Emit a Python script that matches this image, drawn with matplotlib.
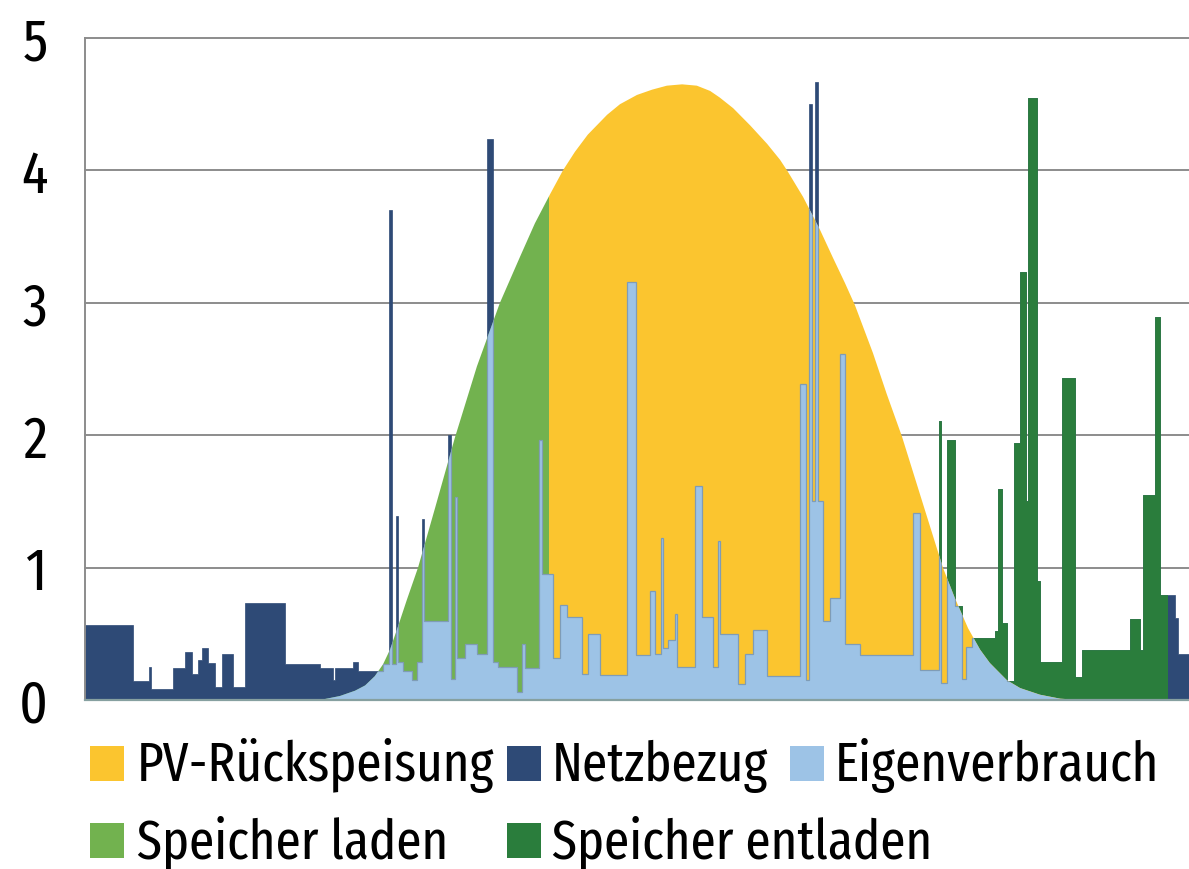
import numpy as np
import matplotlib
matplotlib.use("Agg")
import matplotlib.pyplot as plt
from matplotlib.patches import Polygon, Rectangle

plt.rcParams['font.family'] = ['Fira Sans Extra Condensed', 'DejaVu Sans']
plt.rcParams['font.stretch'] = 'condensed'

# PV-Erzeugung (Stunde, kW)
pv_h = [5.11, 5.54, 5.87, 6.09, 6.30, 6.48, 6.63, 6.78, 7.00, 7.24, 7.61, 8.04, 8.52,
        9.02, 9.46, 9.78, 10.11, 10.39, 10.65, 10.93, 11.35, 11.63, 12.00, 12.33, 12.65,
        12.98, 13.30, 13.59, 13.80, 14.09, 14.46, 14.83, 15.11, 15.28, 15.61, 15.98,
        16.26, 16.52, 16.74, 17.13, 17.43, 17.76, 18.20, 18.65, 18.91, 19.20, 19.46,
        19.67, 20.04, 20.33, 20.76, 21.20, 21.63]
pv_kw = [0.00, 0.03, 0.07, 0.11, 0.18, 0.27, 0.38, 0.53, 0.76, 1.00, 1.45, 1.98, 2.52,
         3.00, 3.35, 3.60, 3.82, 4.00, 4.14, 4.27, 4.42, 4.50, 4.57, 4.61, 4.64,
         4.65, 4.64, 4.60, 4.55, 4.47, 4.34, 4.20, 4.08, 3.99, 3.80, 3.55,
         3.34, 3.15, 2.98, 2.62, 2.31, 1.99, 1.50, 1.00, 0.77, 0.54, 0.38,
         0.28, 0.15, 0.09, 0.04, 0.01, 0.00]

# Verbrauch als Stufen: Beginn der Stufe (Stunde) und Leistung (kW)
load_h = [0.00, 1.04, 1.39, 1.43, 1.91, 2.17, 2.33, 2.46, 2.54, 2.67, 2.83, 2.98, 3.22,
          3.48, 4.35, 5.11, 5.39, 5.43, 5.83, 5.93, 6.48, 6.61, 6.67, 6.76, 6.80, 6.91,
          7.11, 7.22, 7.33, 7.37, 7.89, 7.96, 8.04, 8.09, 8.26, 8.52, 8.74, 8.87, 8.98,
          9.39, 9.50, 9.57, 9.87, 9.93, 10.17, 10.33, 10.48, 10.80, 10.93, 11.20, 11.78,
          11.98, 12.28, 12.39, 12.52, 12.57, 12.67, 12.83, 12.87, 13.26, 13.41, 13.65,
          13.76, 13.80, 14.20, 14.35, 14.52, 14.83, 15.54, 15.67, 15.74, 15.80, 15.87,
          15.93, 16.04, 16.20, 16.41, 16.52, 16.85, 18.00, 18.15, 18.57, 18.61, 18.74,
          18.91, 19.07, 19.15, 19.28, 19.78, 19.85, 19.93, 20.04, 20.20, 20.33, 20.46,
          20.50, 20.70, 20.76, 21.24, 21.52, 21.67, 22.72, 22.93, 23.00, 23.26, 23.37,
          23.70, 23.76]
load_kw = [0.57, 0.14, 0.25, 0.08, 0.24, 0.36, 0.20, 0.30, 0.39, 0.28, 0.10, 0.35, 0.10,
           0.73, 0.27, 0.24, 0.15, 0.24, 0.29, 0.22, 0.27, 3.70, 0.27, 1.39, 0.29, 0.22,
           0.15, 0.29, 1.37, 0.60, 2.00, 0.16, 1.53, 0.32, 0.42, 0.35, 4.24, 0.29, 0.25,
           0.06, 0.42, 0.24, 1.96, 0.95, 0.32, 0.72, 0.63, 0.20, 0.50, 0.19, 3.16,
           0.34, 0.82, 0.35, 1.22, 0.39, 0.45, 0.65, 0.25, 1.62, 0.63, 0.25,
           1.20, 0.50, 0.12, 0.35, 0.53, 0.18, 2.39, 0.15, 4.50, 1.50, 4.67,
           1.50, 0.60, 0.77, 2.61, 0.42, 0.34, 1.41, 0.23, 2.11, 0.13, 1.96,
           0.71, 0.16, 0.40, 0.47, 0.52, 1.59, 0.58, 0.14, 1.94, 3.23, 1.50,
           4.55, 0.90, 0.29, 2.43, 0.17, 0.38, 0.61, 0.38, 1.55, 2.89, 0.79,
           0.62, 0.35]
day_end = 24.0

# Speicher voll ab / Speicher entlädt von-bis (Stunde)
charge_end = 10.09
discharge = (18.50, 23.54)

labels = ['PV-Rückspeisung', 'Netzbezug', 'Eigenverbrauch', 'Speicher laden', 'Speicher entladen']
colors = ['#FBC52F', '#2E4A76', '#9DC3E6', '#72B24F', '#2A7D3C']
c_feed, c_grid, c_self, c_charge, c_disch = colors

fig = plt.figure(figsize=(11.89, 8.69), dpi=100)
ax = fig.add_axes([85 / 1189, 1 - 700 / 869, 1104 / 1189, 662 / 869])
ax.set_xlim(0, day_end)
ax.set_ylim(0, 5)

# step polygon of the load
edges = np.array(load_h + [day_end])
vals = np.array(load_kw)
xs = np.r_[edges[0], np.repeat(edges, 2)[1:-1], edges[-1]]
ys = np.r_[0, np.repeat(vals, 2), 0]
load_xy = np.column_stack([xs, ys])
pv_xy = np.column_stack([pv_h, pv_kw])


def area(xy, fc, ec=None, lw=0.5, clip=None, z=2):
    p = Polygon(xy, closed=True, facecolor=fc, edgecolor=ec or fc, lw=lw,
                transform=ax.transData, zorder=z)
    ax.add_patch(p)
    if clip is not None:
        p.set_clip_path(clip)
    return p


def span(t0, t1):
    return Rectangle((t0, -1), t1 - t0, 10, transform=ax.transData)


area(load_xy, c_grid, z=2)
area(load_xy, c_disch, clip=span(*discharge), z=3)
area(pv_xy, c_charge, lw=0, clip=span(0, charge_end), z=4)
area(pv_xy, c_feed, lw=0, clip=span(charge_end, day_end), z=4)
pv_clip = Polygon(pv_xy, closed=True, transform=ax.transData)
area(load_xy, c_self, ec='#7f9cb6', lw=0.9, clip=pv_clip, z=5)

# axes styling
ax.set_yticks(range(6))
ax.set_xticks([])
ax.yaxis.grid(True, color='#8c8c8c', lw=1.4)
ax.set_axisbelow(True)
for gl in ax.get_ygridlines():
    gl.set_clip_on(False)
for s in ['top', 'right']:
    ax.spines[s].set_visible(False)
ax.spines['left'].set_color('#8c8c8c')
ax.spines['left'].set_linewidth(1.4)
ax.spines['bottom'].set_color('#86a0a0')
ax.spines['bottom'].set_linewidth(1.6)
ax.spines['bottom'].set_zorder(6)
ax.tick_params(axis='y', length=0, pad=27, labelsize=43)

# legend, laid out like the original
rows = [(781, [(0, 90, 137), (1, 507, 552), (2, 790, 835)]),
        (858, [(3, 90, 137), (4, 507, 552)])]
for base, items in rows:
    for i, xs_, xt in items:
        fig.patches.append(Rectangle((xs_ / 1189, 1 - base / 869), 34 / 1189, 35 / 869,
                                     transform=fig.transFigure, facecolor=colors[i],
                                     edgecolor='none'))
        fig.text(xt / 1189, 1 - base / 869, labels[i], fontsize=40, va='baseline', ha='left')

fig.savefig('out.png', dpi=100)
